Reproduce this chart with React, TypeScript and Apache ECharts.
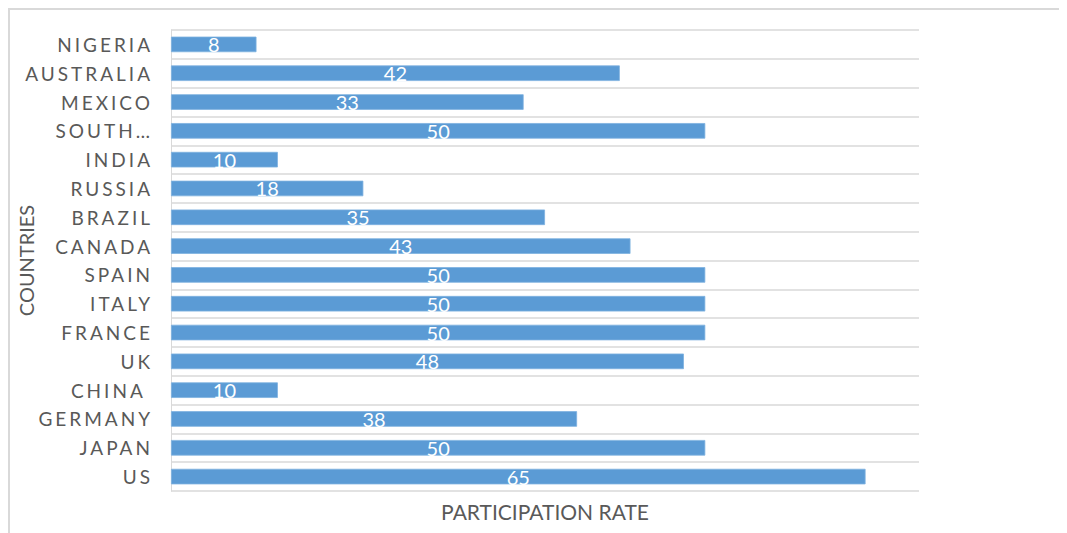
import React, { useEffect, useRef } from "react";
import * as echarts from "echarts";

// Countries listed top to bottom as drawn
const countries = [
  "NIGERIA",
  "AUSTRALIA",
  "MEXICO",
  "SOUTH…",
  "INDIA",
  "RUSSIA",
  "BRAZIL",
  "CANADA",
  "SPAIN",
  "ITALY",
  "FRANCE",
  "UK",
  "CHINA ",
  "GERMANY",
  "JAPAN",
  "US",
];

const participationRate = [8, 42, 33, 50, 10, 18, 35, 43, 50, 50, 50, 48, 10, 38, 50, 65];

const xAxisTitle = "PARTICIPATION RATE";
const yAxisTitle = "COUNTRIES";

// Category labels use a unique fill so CSS can space their letters
const LABEL_FILL = "#595958";

export default function App() {
  const ref = useRef<HTMLDivElement>(null);

  useEffect(() => {
    if (!ref.current) return;
    document.documentElement.style.overflow = "hidden";
    const chart = echarts.init(ref.current, undefined, { renderer: "svg" });
    const W = 1059;
    const H = 525;

    chart.setOption({
      animation: false,
      textStyle: { fontFamily: "Lato" },
      grid: {
        left: 163,
        right: 148,
        top: 22,
        bottom: 42,
        containLabel: false,
        outerBoundsMode: "none",
      },
      graphic: [
        {
          type: "line",
          shape: { x1: 0, y1: 1, x2: W, y2: 1 },
          style: { stroke: "#d9d9d9", lineWidth: 2 },
        },
        {
          type: "line",
          shape: { x1: 1, y1: 0, x2: 1, y2: H },
          style: { stroke: "#d9d9d9", lineWidth: 2 },
        },
      ],
      xAxis: {
        type: "value",
        min: 0,
        max: 70,
        axisLabel: { show: false },
        axisLine: { show: false },
        axisTick: { show: false },
        splitLine: { show: false },
        name: xAxisTitle,
        nameLocation: "middle",
        nameGap: 10,
        nameTextStyle: {
          color: "#595959",
          fontSize: 21,
          fontFamily: "Lato",
          verticalAlign: "top",
        },
      },
      yAxis: {
        type: "category",
        inverse: true,
        data: countries,
        axisLine: { show: true, lineStyle: { color: "#d9d9d9", width: 1 } },
        axisTick: { show: false },
        splitLine: { show: true, lineStyle: { color: "#d9d9d9", width: 1.5 } },
        axisLabel: {
          color: LABEL_FILL,
          fontSize: 19,
          fontFamily: "Lato",
          margin: 18,
        },
        name: yAxisTitle,
        nameLocation: "middle",
        nameRotate: 90,
        nameGap: 135,
        nameTextStyle: {
          color: "#595959",
          fontSize: 20,
          fontFamily: "Lato",
        },
      },
      series: [
        {
          type: "bar",
          data: participationRate,
          barCategoryGap: "46%",
          itemStyle: { color: "#5b9bd5", borderColor: "#7eb1e0", borderWidth: 0.8 },
          label: {
            show: true,
            position: "inside",
            color: "#ffffff",
            fontSize: 20,
            fontFamily: "Lato",
            offset: [0, 0],
          },
        },
      ],
    });

    return () => chart.dispose();
  }, []);

  return (
    <>
      <style>{`#chart text[fill="${LABEL_FILL}"]{letter-spacing:3px;}`}</style>
      <div id="chart" ref={ref} style={{ width: 1059, height: 525 }} />
    </>
  );
}
